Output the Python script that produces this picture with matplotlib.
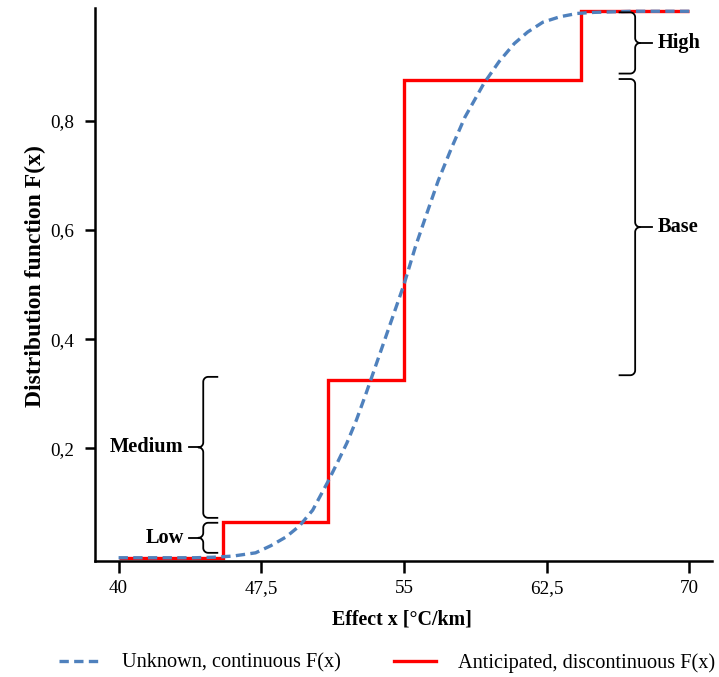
import numpy as np
import matplotlib
matplotlib.use("Agg")
import matplotlib.pyplot as plt

plt.rcParams['font.family'] = ['Liberation Serif', 'DejaVu Serif']

# ---------------------------------------------------------------- data
# continuous distribution function
cont_x = [40, 42, 44, 45, 46, 47.2, 48, 48.8, 49.5, 50.2, 51, 51.5, 52, 52.5,
          53, 53.5, 54, 54.5, 55, 55.6, 56.2, 56.8, 57.5, 58.2, 59.2, 60,
          60.8, 61.5, 62.3, 63.2, 64.1, 65, 67, 70]
cont_F = [0, 0, 0, 0.001, 0.003, 0.009, 0.022, 0.038, 0.058, 0.087, 0.139,
          0.174, 0.21, 0.252, 0.30, 0.35, 0.40, 0.45, 0.50, 0.569, 0.63, 0.69,
          0.75, 0.806, 0.868, 0.908, 0.941, 0.962, 0.98, 0.99, 0.996, 0.998,
          1.0, 1.0]

# anticipated step function (edges + levels)
step_edges = [40, 45.5, 51, 55, 64.3, 70]
step_levels = [0.0, 0.065, 0.325, 0.875, 1.0]

x_ticks = [40, 47.5, 55, 62.5, 70]
x_ticklabels = ['40', '47,5', '55', '62,5', '70']
y_ticks = [0.2, 0.4, 0.6, 0.8]
y_ticklabels = ['0,2', '0,4', '0,6', '0,8']

# scenario braces: name, lower F, upper F
left_braces = [('Low', 0.009, 0.064), ('Medium', 0.073, 0.331)]
right_braces = [('High', 0.886, 0.998), ('Base', 0.334, 0.876)]

# ---------------------------------------------------------------- figure
fig = plt.figure(figsize=(7.19, 6.77), dpi=100)
ax = fig.add_axes([0.1321, 0.1713, 0.8582, 0.8169])

ax.plot(cont_x, cont_F, color='#4f81bd', lw=2.4, dashes=(2.8, 1.6),
        label='Unknown, continuous F(x)', zorder=3)
ax.stairs(step_levels, step_edges, color='#ff0000', lw=2.4,
          baseline=None, label='Anticipated, discontinuous F(x)', zorder=2)

ax.set_xlim(38.76, 71.19)
ax.set_ylim(-0.006, 1.006)

for s in ['top', 'right']:
    ax.spines[s].set_visible(False)
for s in ['left', 'bottom']:
    ax.spines[s].set_linewidth(1.8)

ax.set_xticks(x_ticks)
ax.set_xticklabels(x_ticklabels)
ax.set_yticks(y_ticks)
ax.set_yticklabels(y_ticklabels)
ax.tick_params(axis='x', length=8.6, width=1.8, pad=5, labelsize=13.8)
ax.tick_params(axis='y', length=7.2, width=1.8, pad=8, labelsize=13.8)

ax.set_xlabel('Effect x [°C/km]', fontsize=14.4, fontweight='bold')
ax.xaxis.set_label_coords(0.497, -0.087)
ax.set_ylabel('Distribution function F(x)', fontsize=17, fontweight='bold')
ax.yaxis.set_label_coords(-0.08, 0.515)


def brace(xs, y0, y1, xend, xtip, rx=0.26, ry=0.009):
    # curly brace: spine at xs, ends bend toward xend, point toward xtip
    s = 1 if xend > xs else -1
    ym = (y0 + y1) / 2
    t = np.linspace(0, np.pi / 2, 12)
    px, py = [xend], [y1]
    cx, cy = xs + s * rx, y1 - ry
    px += list(cx - s * rx * np.sin(t)); py += list(cy + ry * np.cos(t))
    cx, cy = xs - s * rx, ym + ry
    px += list(cx + s * rx * np.cos(t)); py += list(cy - ry * np.sin(t))
    cx, cy = xs - s * rx, ym - ry
    px += list(cx + s * rx * np.sin(t)); py += list(cy + ry * np.cos(t))
    cx, cy = xs + s * rx, y0 + ry
    px += list(cx - s * rx * np.cos(t)); py += list(cy - ry * np.sin(t))
    px.append(xend); py.append(y0)
    ax.plot(px, py, color='black', lw=1.3, clip_on=False, zorder=4)
    ax.plot([xs - s * rx, xtip], [ym, ym], color='black', lw=1.3,
            clip_on=False, zorder=4)
    return ym


for name, lo, hi in left_braces:
    ym = brace(44.45, lo, hi, 45.19, 43.72)
    ax.text(43.42, ym, name, ha='right', va='center', fontsize=14.7,
            fontweight='bold')

for name, lo, hi in right_braces:
    ym = brace(67.15, lo, hi, 66.33, 68.05)
    ax.text(68.36, ym, name, ha='left', va='center', fontsize=14.7,
            fontweight='bold')

fig.legend(loc='center', bbox_to_anchor=(0.538, 0.021), ncol=2,
           frameon=False, fontsize=14.6, handlelength=2.05,
           handletextpad=1.1, columnspacing=2.6)

fig.savefig('out.png', dpi=100)
